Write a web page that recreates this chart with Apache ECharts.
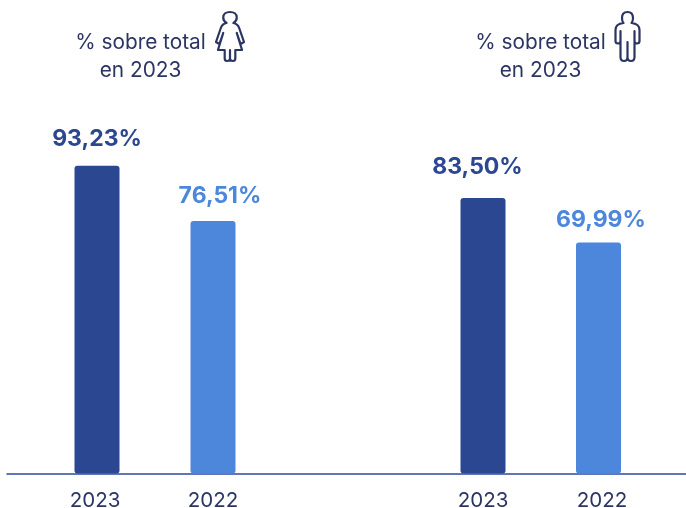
<!DOCTYPE html>
<html><head><meta charset="utf-8">
<style>html,body{margin:0;padding:0;background:#fff}#c{width:686px;height:508px}</style>
<script src="https://cdn.jsdelivr.net/npm/echarts@6/dist/echarts.min.js"></script>
</head><body><div id="c"></div>
<script>
const categories = ['2023', '2022'];
const womenValues = [93.23, 76.51];
const menValues = [83.50, 69.99];
const headerLines = ['% sobre total', 'en 2023'];
const barColors = ['#2C4791', '#4C87DB'];
const FONT = 'Inter';
const TEXT = '#2B3563';

const womenLabelShift = [[0,-4],[7,-2]];
const menLabelShift = [[-5.5,-8],[2.5,0]];
const womenTickPad = [[0,4,0,0],[0,0,0,0]];
const menTickPad = [[0,0,0,0],[0,0,0,7]];

const fmt = v => v.toFixed(2).replace('.', ',') + '%';
const chart = echarts.init(document.getElementById('c'), null, {renderer:'canvas'});

function barSeries(values, idx, shifts){
  return {
    type:'bar', xAxisIndex:idx, yAxisIndex:idx, barWidth:45,
    data: values.map((v,i)=>({
      value:v,
      itemStyle:{color:barColors[i], borderRadius:[3,3,3,3]},
      label:{color:barColors[i], offset:shifts[i]}
    })),
    label:{show:true, position:'top', distance:11, formatter:p=>fmt(p.value),
      fontFamily:FONT, fontWeight:700, fontSize:23}
  };
}
function xAxis(idx, pads){
  return {type:'category', gridIndex:idx,
    data:categories.map((c,i)=>({value:c, textStyle:{padding:pads[i]}})),
    axisLine:{show:false}, axisTick:{show:false},
    axisLabel:{color:TEXT, fontFamily:FONT, fontSize:20.5, margin:17, interval:0}};
}
function yAxis(idx){
  return {type:'value', gridIndex:idx, min:0, max:100, show:false};
}
const woman = 'M11 12C8 10.5 7.5 8.5 7.5 6.5C7.5 3 10.5 1 14.5 1C18.5 1 21.5 3 21.5 6.5C21.5 8.5 21 10.5 18 12C21 12.5 23 14 24 17L29 31L25.5 33L21.5 22L27 39H20V47.5C20 49.5 19 50 17.5 50C16 50 14.5 49.5 14.5 47.5V39V47.5C14.5 49.5 13 50 11.5 50C10 50 9 49.5 9 47.5V39H2L7.5 22L3.5 33L0 31L5 17C6 14 8 12.5 11 12Z';
const man = 'M8 11C6.5 9.5 6.5 8 6.5 6C6.5 2.5 8.5 0 12 0C15.5 0 17.5 2.5 17.5 6C17.5 8 17.5 9.5 16 11C21 11.5 24 14 24 18V29C24 30.5 23 31.5 21.5 31.5C20 31.5 19 30.5 19 29V19V45C19 47.5 17.5 49 15.5 49C13.5 49 12 47.5 12 45V30V45C12 47.5 10.5 49 8.5 49C6.5 49 5 47.5 5 45V19V29C5 30.5 4 31.5 2.5 31.5C1 31.5 0 30.5 0 29V18C0 14 3 11.5 8 11Z';
const iconSeries = (d,x,y,w,h)=>({
  type:'custom', coordinateSystem:'none', silent:true, data:[0],
  renderItem:()=>({type:'path', shape:{pathData:d, layout:'cover', x, y, width:w, height:h},
    style:{fill:'none', stroke:TEXT, lineWidth:2.2, lineJoin:'round', lineCap:'round'}})
});
const head = (x,y)=>({type:'text', x, y, style:{text:headerLines.join('\n'), fontFamily:FONT, fontSize:20.8, lineHeight:27.5,
  fill:TEXT, align:'center', verticalAlign:'top'}});

chart.setOption({
  animation:false,
  grid:[
    {left:39, width:232, top:143.5, height:330, outerBoundsMode:'none'},
    {left:425.25, width:231, top:143.5, height:330, outerBoundsMode:'none'},
    {left:7, right:0, top:143.5, height:330, outerBoundsMode:'none'}
  ],
  xAxis:[xAxis(0,womenTickPad), xAxis(1,menTickPad), {type:'category', gridIndex:2, data:[''],
    axisLine:{show:true, lineStyle:{color:'#2C4A9E', width:1.5}}, axisTick:{show:false}, axisLabel:{show:false}}],
  yAxis:[yAxis(0), yAxis(1), yAxis(2)],
  series:[barSeries(womenValues,0,womenLabelShift), barSeries(menValues,1,menLabelShift),
    iconSeries(woman,216,12,28,49), iconSeries(man,615.5,12,24,49)],
  graphic:[head(140.5,29), head(540.5,29)]
});
</script></body></html>
